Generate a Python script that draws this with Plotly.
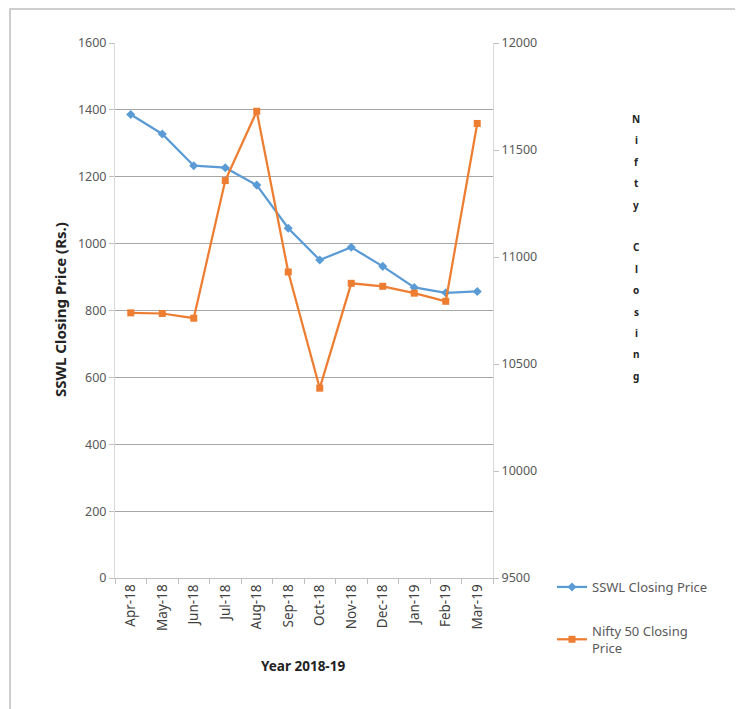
import plotly.graph_objects as go

months = ["Apr-18", "May-18", "Jun-18", "Jul-18", "Aug-18", "Sep-18",
          "Oct-18", "Nov-18", "Dec-18", "Jan-19", "Feb-19", "Mar-19"]
sswl = [1386, 1328, 1233, 1227, 1175, 1046, 951, 989, 932, 869, 853, 857]
nifty = [10739, 10736, 10714, 11357, 11681, 10930, 10387, 10877, 10863, 10831, 10793, 11624]
left_ticks = [0, 200, 400, 600, 800, 1000, 1200, 1400, 1600]
right_ticks = [9500, 10000, 10500, 11000, 11500, 12000]

# page body margin offset (page draws figure at 8,8)
O = 8
W, H = 743 - O, 709 - O
# plot area in reference pixel coordinates
PX0, PX1, PY0, PY1 = 115, 493, 43, 578
L, R, T, B = PX0 - O, (743 - PX1), PY0 - O, (709 - PY1)
pw, ph = PX1 - PX0, PY1 - PY0

def px(x):
    return (x - PX0) / pw

def py(y):
    return (PY1 - y) / ph

blue = "#5B9BD5"
orange = "#ED7D31"
font = "Noto Sans"

fig = go.Figure()
fig.add_trace(go.Scatter(
    x=months, y=sswl, name="SSWL Closing Price", mode="lines+markers",
    legendgroup="a",
    line=dict(color=blue, width=2.25),
    marker=dict(symbol="diamond", size=7, color=blue), yaxis="y"))
fig.add_trace(go.Scatter(
    x=months, y=nifty, name="Nifty 50 Closing<br>Price", mode="lines+markers",
    legendgroup="b",
    line=dict(color=orange, width=2.25),
    marker=dict(symbol="square", size=7, color=orange), yaxis="y2"))

annotations = [
    dict(text="<b>Year 2018-19</b>", x=px(303), y=py(666), xref="paper", yref="paper",
         xanchor="center", yanchor="middle",
         showarrow=False, font=dict(family=font, size=13.5, color="#222")),
    dict(text="<b>SSWL Closing Price (Rs.)</b>", x=px(60), y=py(310), xref="paper", yref="paper",
         xanchor="center", yanchor="middle",
         showarrow=False, textangle=-90, font=dict(family=font, size=15, color="#222")),
]
letters = list("Nifty Closing")
for i, ch in enumerate(letters):
    if ch == " ":
        continue
    annotations.append(dict(text="<b>%s</b>" % ch, x=px(636), y=py(119 + i * 21.4),
                            xref="paper", yref="paper", showarrow=False,
                            xanchor="center", yanchor="middle",
                            font=dict(family=font, size=10, color="#222")))

fig.update_layout(
    width=W, height=H, margin=dict(l=L, r=R, t=T, b=B, autoexpand=False),
    paper_bgcolor="white", plot_bgcolor="white",
    font=dict(family=font, size=12, color="#595959"),
    showlegend=True,
    legend=dict(x=px(552), y=py(572), xanchor="left", yanchor="top",
                font=dict(family=font, size=13, color="#595959"),
                tracegroupgap=24, itemwidth=30, bgcolor="rgba(0,0,0,0)"),
    xaxis=dict(type="category", categoryorder="array", categoryarray=months,
               showline=True, linecolor="#BFBFBF", linewidth=1,
               ticks="outside", tickson="boundaries", ticklen=5, tickcolor="#BFBFBF",
               tickangle=-90, tickfont=dict(family=font, size=13.5, color="#404040"),
               showgrid=False, range=[-0.5, 11.5]),
    yaxis=dict(range=[0, 1600], tickvals=left_ticks, tickformat="d", showgrid=True,
               gridcolor="#A6A6A6", gridwidth=1, showline=True, linecolor="#D9D9D9",
               ticks="outside", ticklen=5, tickcolor="#BFBFBF", zeroline=False,
               tickfont=dict(family=font, size=12.5, color="#595959")),
    yaxis2=dict(range=[9500, 12000], tickvals=right_ticks, tickformat="d",
                overlaying="y", side="right",
                showgrid=False, showline=True, linecolor="#D9D9D9", ticks="outside",
                ticklen=5, tickcolor="#BFBFBF", zeroline=False,
                tickfont=dict(family=font, size=12.5, color="#595959")),
    annotations=annotations,
    shapes=[dict(type="rect", xref="paper", yref="paper",
                 x0=px(10), x1=px(742), y0=py(720), y1=py(9),
                 line=dict(color="#BFBFBF", width=1.5))],
)

fig.write_html("out.html")
